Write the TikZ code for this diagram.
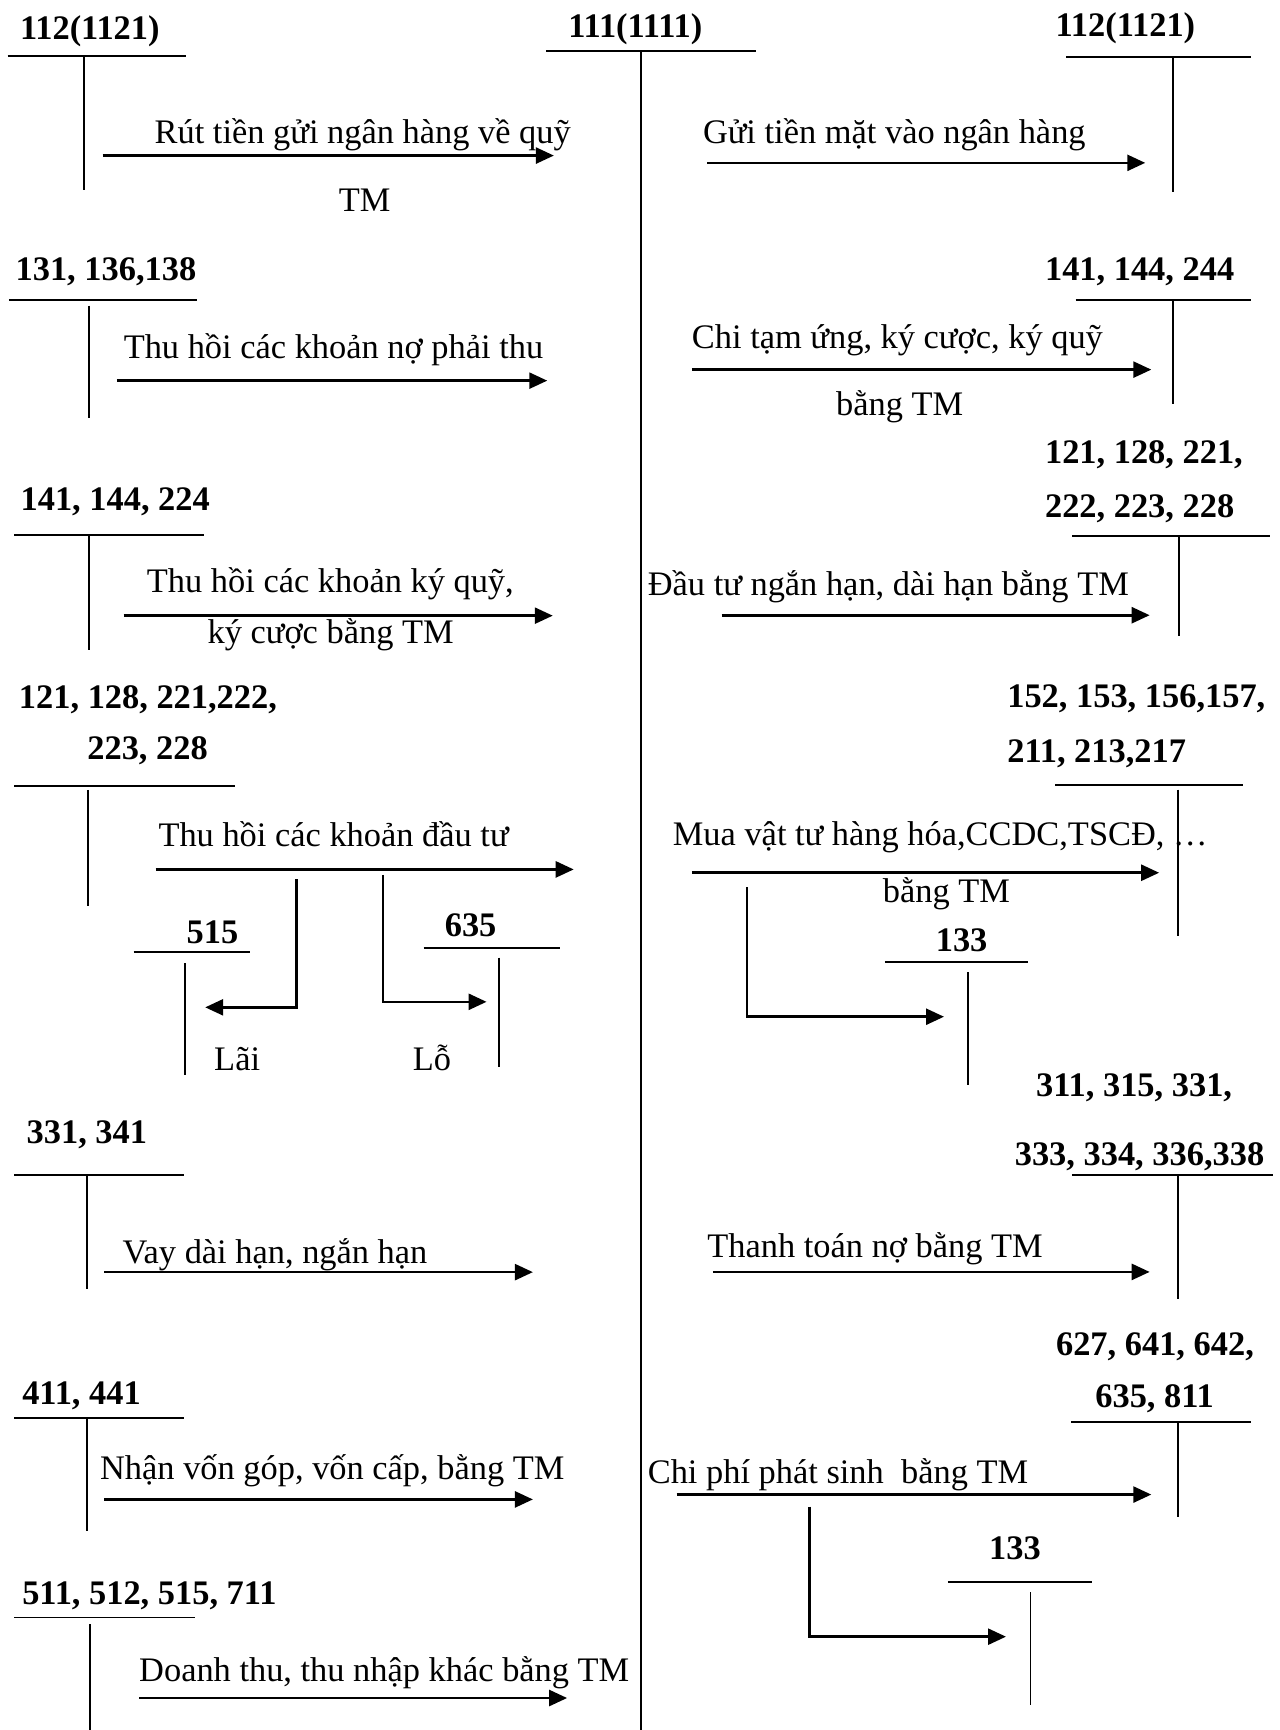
\documentclass[tikz,border=0pt]{standalone}
\usepackage{fontspec}
\setmainfont{Liberation Serif}
\usetikzlibrary{arrows.meta}
\begin{document}
\begin{tikzpicture}[x=1.1034pt,y=-1.1034pt,
  tl/.style={line width=1.9pt},
  arr/.style={line width=2.6pt,-{Triangle[length=18pt,width=16pt]}},
  acc/.style={anchor=base west,inner sep=0pt,font=\fontsize{34.4}{40}\selectfont\bfseries},
  txt/.style={anchor=base west,inner sep=0pt,font=\fontsize{34.4}{40}\selectfont}]
\useasboundingbox[fill=white] (0,0) rectangle (1160,1568);

% ---------- central account 111 ----------
\node[acc] (c111) at (515,34) {111(1111)};
\draw[tl] (495,46) -- (685,46);
\draw[tl] (581,46) -- (581,1568);

% ---------- LEFT COLUMN ----------
% 112(1121)
\node[acc] (l1) at (18,36) {112(1121)};
\draw[tl] (7,51) -- (169,51);
\draw[tl] (76,51) -- (76,172);
\coordinate (l1s) at (93,141); \coordinate (l1e) at (502,141);
\draw[arr] (l1s) -- (l1e);
\node[txt] (l1t) at (140,130) {Rút tiền gửi ngân hàng về quỹ};
\node[txt] (l1t2) at (307,192) {TM};

% 131,136,138
\node[acc] (l2) at (14,254) {131, 136,138};
\draw[tl] (8,272) -- (179,272);
\draw[tl] (81,277) -- (81,379);
\coordinate (l2s) at (106,345); \coordinate (l2e) at (496,345);
\draw[arr] (l2s) -- (l2e);
\node[txt] (l2t) at (112,325) {Thu hồi các khoản nợ phải thu};

% 141,144,224
\node[acc] (l3) at (18.5,463) {141, 144, 224};
\draw[tl] (13,485) -- (185,485);
\draw[tl] (81,486) -- (81,589);
\coordinate (l3s) at (112,558); \coordinate (l3e) at (501,558);
\draw[arr] (l3s) -- (l3e);
\node[txt] (l3t) at (133,537) {Thu hồi các khoản ký quỹ,};
\node[txt] (l3t2) at (188,583) {ký cược bằng TM};

% 121,128,...
\node[acc] (l4) at (17,642) {121, 128, 221,222,};
\node[acc] (l4b) at (79,688) {223, 228};
\draw[tl] (13,712) -- (213,712);
\draw[tl] (80,716) -- (80,821);
\coordinate (l4s) at (141,788); \coordinate (l4e) at (520,788);
\draw[arr] (l4s) -- (l4e);
\node[txt] (l4t) at (143.5,767) {Thu hồi các khoản đầu tư};
% 515
\node[acc] (a515) at (169,855) {515};
\draw[tl] (121,863) -- (227,863);
\draw[tl] (168,873) -- (168,974);
\coordinate (b1s) at (269,797); \coordinate (b1e) at (186,913);
\draw[arr] (b1s) |- (b1e);
\node[txt] (lai) at (194,970) {Lãi};
% 635
\node[acc] (a635) at (403,849) {635};
\draw[tl] (384,859) -- (508,859);
\draw[tl] (452,868) -- (452,967);
\coordinate (b2s) at (347,793); \coordinate (b2e) at (441,908);
\draw[arr] (b2s) |- (b2e);
\node[txt] (lo) at (374,970) {Lỗ};

% 331,341
\node[acc] (l5) at (24,1036) {331, 341};
\draw[tl] (13,1065) -- (167,1065);
\draw[tl] (78.5,1066) -- (78.5,1168);
\coordinate (l5s) at (94.5,1153); \coordinate (l5e) at (483,1153);
\draw[arr] (l5s) -- (l5e);
\node[txt] (l5t) at (111,1145) {Vay dài hạn, ngắn hạn};

% 411,441
\node[acc] (l6) at (20,1273) {411, 441};
\draw[tl] (13,1285) -- (167,1285);
\draw[tl] (78.5,1286) -- (78.5,1388);
\coordinate (l6s) at (94.5,1359); \coordinate (l6e) at (483,1359);
\draw[arr] (l6s) -- (l6e);
\node[txt] (l6t) at (90.6,1341) {Nhận vốn góp, vốn cấp, bằng TM};

% 511,...
\node[acc] (l7) at (20,1454) {511, 512, 515, 711};
\draw[tl] (13,1466) -- (177,1466);
\draw[tl] (81.5,1472) -- (81.5,1568);
\coordinate (l7s) at (126,1539); \coordinate (l7e) at (514,1539);
\draw[arr] (l7s) -- (l7e);
\node[txt] (l7t) at (126,1524) {Doanh thu, thu nhập khác bằng TM};

% ---------- RIGHT COLUMN ----------
% 112(1121)
\node[acc] (r1) at (956.6,33) {112(1121)};
\draw[tl] (966.6,51.4) -- (1134,51.4);
\draw[tl] (1063.5,51.4) -- (1063.5,173.6);
\coordinate (r1s) at (641,147.6); \coordinate (r1e) at (1038,147.6);
\draw[arr] (r1s) -- (r1e);
\node[txt] (r1t) at (637,130.2) {Gửi tiền mặt vào ngân hàng};

% 141,144,244
\node[acc] (r2) at (947,254.5) {141, 144, 244};
\draw[tl] (975,272) -- (1134,272);
\draw[tl] (1063.5,272) -- (1063.5,366);
\coordinate (r2s) at (627,335); \coordinate (r2e) at (1043.5,335);
\draw[arr] (r2s) -- (r2e);
\node[txt] (r2t) at (627,316) {Chi tạm ứng, ký cược, ký quỹ};
\node[txt] (r2t2) at (757.6,376.7) {bằng TM};

% 121,128,221,...
\node[acc] (r3) at (947,420) {121, 128, 221,};
\node[acc] (r3b) at (947,468.7) {222, 223, 228};
\draw[tl] (972,485.4) -- (1151.5,485.4);
\draw[tl] (1068.3,485.4) -- (1068.3,576.8);
\coordinate (r3s) at (654,557.6); \coordinate (r3e) at (1042,557.6);
\draw[arr] (r3s) -- (r3e);
\node[txt] (r3t) at (587,540) {Đầu tư ngắn hạn, dài hạn bằng TM};

% 152,153,...
\node[acc] (r4) at (912.8,641) {152, 153, 156,157,};
\node[acc] (r4b) at (912.8,691.5) {211, 213,217};
\draw[tl] (956.6,711.5) -- (1126.5,711.5);
\draw[tl] (1067.6,715.7) -- (1067.6,848.7);
\coordinate (r4s) at (627,791); \coordinate (r4e) at (1050.6,791);
\draw[arr] (r4s) -- (r4e);
\node[txt] (r4t) at (609.7,766) {Mua vật tư hàng hóa,CCDC,TSCĐ, …};
\node[txt] (r4t2) at (800,818) {bằng TM};
% 133
\node[acc] (r133a) at (848,862.5) {133};
\draw[tl] (802,872) -- (932,872);
\draw[tl] (877,881) -- (877,983);
\coordinate (b3s) at (677,804); \coordinate (b3e) at (855.6,921.5);
\draw[arr] (b3s) |- (b3e);

% 311,315,...
\node[acc] (r5) at (939,994) {311, 315, 331,};
\node[acc] (r5b) at (919.6,1056) {333, 334, 336,338};
\draw[tl] (971.4,1064.6) -- (1153.4,1064.6);
\draw[tl] (1067.6,1064.6) -- (1067.6,1177);
\coordinate (r5s) at (646,1152.8); \coordinate (r5e) at (1042,1152.8);
\draw[arr] (r5s) -- (r5e);
\node[txt] (r5t) at (641,1140) {Thanh toán nợ bằng TM};

% 627,641,...
\node[acc] (r6) at (957,1229) {627, 641, 642,};
\node[acc] (r6b) at (992.6,1276) {635, 811};
\draw[tl] (970.9,1289) -- (1133.8,1289);
\draw[tl] (1067.6,1289) -- (1067.6,1375);
\coordinate (r6s) at (613.3,1354.6); \coordinate (r6e) at (1043.5,1354.6);
\draw[arr] (r6s) -- (r6e);
\node[txt] (r6t) at (587,1344.7) {Chi phí phát sinh\ \ bằng TM};
% 133
\node[acc] (r133b) at (896.3,1413.6) {133};
\draw[tl] (859,1434) -- (989.5,1434);
\draw[tl] (934,1443) -- (934,1545);
\coordinate (b4s) at (733.5,1365.6); \coordinate (b4e) at (911.8,1483.4);
\draw[arr] (b4s) |- (b4e);
\end{tikzpicture}
\end{document}
